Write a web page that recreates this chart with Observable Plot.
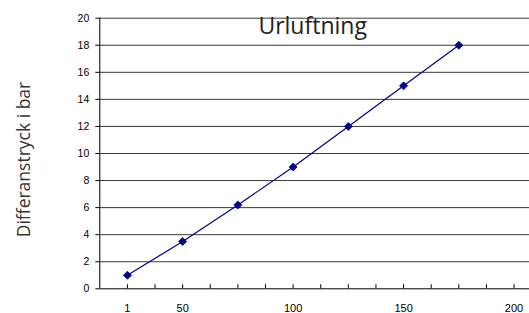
<!DOCTYPE html>
<html>
<head>
<meta charset="utf-8">
<script src="https://cdn.jsdelivr.net/npm/d3@7"></script>
<script src="https://cdn.jsdelivr.net/npm/@observablehq/plot@0.6"></script>
<style>
  html, body { margin: 0; padding: 0; background: #fff; }
</style>
</head>
<body>
<div id="chart"></div>
<script>
// Categories (as shown on the category axis) and series values
const categories = ["1", "50", "75", "100", "125", "150", "175"];
const values = [1, 3.5, 6.2, 9, 12, 15, 18];
// Tick labels on the x axis (category positions) and the y axis
const xTickPositions = [1, 2, 4, 6, 8];
const xTickLabels = ["1", "50", "100", "150", "200"];
const xTickMarks = d3.range(1, 8.01, 0.5);
const yTicks = d3.range(0, 21, 2);
const title = "Urluftning";
const yLabel = "Differanstryck i bar";

const data = categories.map((c, i) => ({cat: c, pos: i + 1, value: values[i]}));

const chart = Plot.plot({
  width: 529,
  height: 313,
  marginLeft: 99.3,
  marginRight: 0,
  marginTop: 17.7,
  marginBottom: 24.7,
  style: {fontFamily: "'Liberation Sans', Arial, sans-serif", background: "#fff", color: "#000"},
  x: {domain: [0.5, 8.28]},
  y: {domain: [0, 20]},
  marks: [
    Plot.ruleY(yTicks.filter(d => d > 0), {x1: 0.5, x2: 8.28, stroke: "#3a3a3a", strokeWidth: 1}),
    Plot.ruleX(xTickMarks, {x: d => d, y1: 0, y2: 0.3, stroke: "#000"}),
    Plot.axisY({ticks: yTicks, tickSize: 4, tickPadding: 6.5, fontSize: 10.5, label: null, stroke: "#000"}),
    Plot.axisX({ticks: xTickPositions, tickFormat: (d) => xTickLabels[xTickPositions.indexOf(d)], tickSize: 0, tickPadding: 15, fontSize: 11, label: null}),
    Plot.ruleX([0.5], {y1: 0, y2: 20, stroke: "#000"}),
    Plot.ruleY([0], {x1: 0.5, x2: 8.28, stroke: "#000"}),
    Plot.line(data, {x: "pos", y: "value", stroke: "#00008b", strokeWidth: 1.2}),
    Plot.dot(data, {x: "pos", y: "value", symbol: "diamond2", r: 3.6, fill: "#00008b", stroke: "#00008b", strokeWidth: 0.8}),
    Plot.text([title], {frameAnchor: "top", text: d => d, dx: -2, dy: 15.3, lineAnchor: "bottom", fontSize: 23, fontFamily: "'Open Sans', sans-serif", fill: "#222"}),
    Plot.text([yLabel], {frameAnchor: "left", textAnchor: "middle", lineAnchor: "middle", text: d => d, dx: -75, dy: 6, rotate: -90, fontSize: 17.5, fontFamily: "'Open Sans', sans-serif", fill: "#333"})
  ]
});
document.getElementById("chart").append(chart);
</script>
</body>
</html>
